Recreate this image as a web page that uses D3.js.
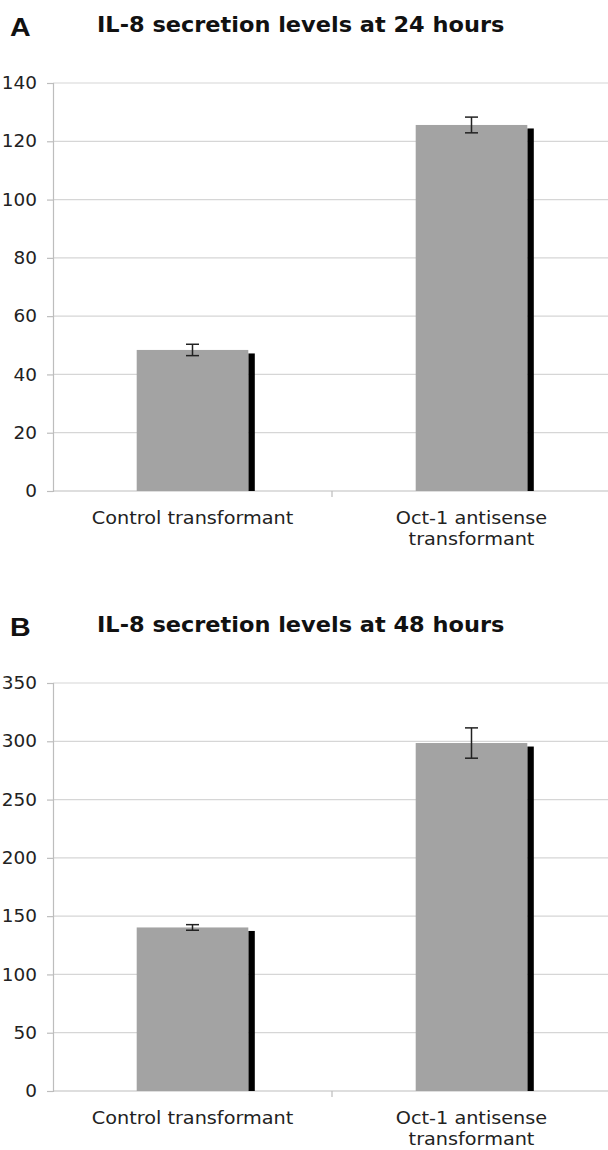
<!DOCTYPE html>
<html>
<head>
<meta charset="utf-8">
<script src="https://cdn.jsdelivr.net/npm/d3@7"></script>
<style>
  html, body { margin: 0; padding: 0; background: #fff; }
  svg { display: block; }
</style>
</head>
<body>
<script>
// ---- data ----
const categories = ["Control transformant", "Oct-1 antisense transformant"];
const categoryLines = [["Control transformant"], ["Oct-1 antisense", "transformant"]];

const panelLetters = ["A", "B"];
const panelTitles = ["IL-8 secretion levels at 24 hours", "IL-8 secretion levels at 48 hours"];

const values24 = [48.4, 125.6];
const errors24 = [1.95, 2.7];
const ticks24 = [0, 20, 40, 60, 80, 100, 120, 140];

const values48 = [140.3, 298.5];
const errors48 = [2.4, 13];
const ticks48 = [0, 50, 100, 150, 200, 250, 300, 350];

// ---- drawing ----
const W = 608, H = 1150;
const SX = 1.08; // horizontal stretch of the reference glyphs
const svg = d3.select("body").append("svg").attr("width", W).attr("height", H);

const panels = [
  { letter: panelLetters[0], title: panelTitles[0], values: values24, errors: errors24, ticks: ticks24, top: 0 },
  { letter: panelLetters[1], title: panelTitles[1], values: values48, errors: errors48, ticks: ticks48, top: 600 }
];

const axisX = 53, plotRight = 611;
const x = d3.scaleBand().domain(categories).range([axisX, plotRight]).paddingInner(0.6).paddingOuter(0.3);

function stretchedText(parent, tx, ty, sx) {
  return parent.append("g").attr("transform", `translate(${tx},${ty}) scale(${sx},1)`).append("text");
}

panels.forEach(p => {
  const g = svg.append("g").attr("transform", `translate(0,${p.top})`);
  const y0 = 491, y1 = 83;
  const y = d3.scaleLinear().domain([0, d3.max(p.ticks)]).range([y0, y1]);

  // letter and title
  stretchedText(g, 10, 36, 1.1)
    .attr("font-family", "Liberation Sans, Arial, sans-serif").attr("font-weight", "bold")
    .attr("font-size", 26).attr("fill", "#111").text(p.letter);
  stretchedText(g, 97, 31.7, SX)
    .attr("font-family", "DejaVu Sans, Verdana, sans-serif").attr("font-weight", "bold")
    .attr("font-size", 20.8).attr("fill", "#111").text(p.title);

  // gridlines
  g.append("g").selectAll("line").data(p.ticks.filter(t => t > 0)).join("line")
    .attr("x1", axisX).attr("x2", plotRight)
    .attr("y1", d => y(d)).attr("y2", d => y(d))
    .attr("stroke", "#d6d6d6").attr("stroke-width", 1.2);

  // y axis
  const yAxis = d3.axisLeft(y).tickValues(p.ticks).tickSize(6).tickPadding(10).tickFormat(d3.format("d"));
  const ya = g.append("g").attr("transform", `translate(${axisX},0)`).call(yAxis);
  ya.select(".domain").attr("stroke", "#bdbdbd").attr("stroke-width", 1.2);
  ya.selectAll(".tick line").attr("stroke", "#bdbdbd").attr("stroke-width", 1.2);
  ya.selectAll(".tick text").attr("font-family", "DejaVu Sans, Verdana, sans-serif")
    .attr("font-size", 17.4).attr("fill", "#222")
    .attr("x", -16 / 1.06).attr("transform", "scale(1.06,1)");

  // x axis baseline
  g.append("line").attr("x1", axisX).attr("x2", plotRight).attr("y1", y(0)).attr("y2", y(0))
    .attr("stroke", "#bdbdbd").attr("stroke-width", 1.2);
  // category divider ticks
  const step = x.step();
  const dividers = categories.slice(1).map(c => x(c) - x.paddingInner() * step / 2);
  g.append("g").selectAll("line").data(dividers).join("line")
    .attr("x1", d => d).attr("x2", d => d).attr("y1", y(0)).attr("y2", y(0) + 6)
    .attr("stroke", "#bdbdbd").attr("stroke-width", 1.2);

  const bw = x.bandwidth();
  // shadow bars
  g.append("g").selectAll("rect").data(categories).join("rect")
    .attr("x", c => x(c) + bw)
    .attr("width", 6.5)
    .attr("y", (c, i) => y(p.values[i]) + 3.5)
    .attr("height", (c, i) => y(0) - y(p.values[i]) - 3.5)
    .attr("fill", "#000");
  // bars
  g.append("g").selectAll("rect").data(categories).join("rect")
    .attr("x", c => x(c))
    .attr("width", bw)
    .attr("y", (c, i) => y(p.values[i]))
    .attr("height", (c, i) => y(0) - y(p.values[i]))
    .attr("fill", "#a3a3a3");

  // error bars
  const eb = g.append("g").attr("stroke", "#222").attr("stroke-width", 1.5);
  categories.forEach((c, i) => {
    const cx = x(c) + bw / 2;
    const hi = y(p.values[i] + p.errors[i]), lo = y(p.values[i] - p.errors[i]);
    eb.append("line").attr("x1", cx).attr("x2", cx).attr("y1", hi).attr("y2", lo);
    eb.append("line").attr("x1", cx - 6.5).attr("x2", cx + 6.5).attr("y1", hi).attr("y2", hi);
    eb.append("line").attr("x1", cx - 6.5).attr("x2", cx + 6.5).attr("y1", lo).attr("y2", lo);
  });

  // category labels
  categories.forEach((c, i) => {
    const cx = x(c) + bw / 2;
    categoryLines[i].forEach((line, j) => {
      stretchedText(g, cx, y(0) + 33 + j * 21, 1.1)
        .attr("text-anchor", "middle")
        .attr("font-family", "DejaVu Sans, Verdana, sans-serif").attr("font-size", 17.5).attr("fill", "#222")
        .text(line);
    });
  });
});
</script>
</body>
</html>
